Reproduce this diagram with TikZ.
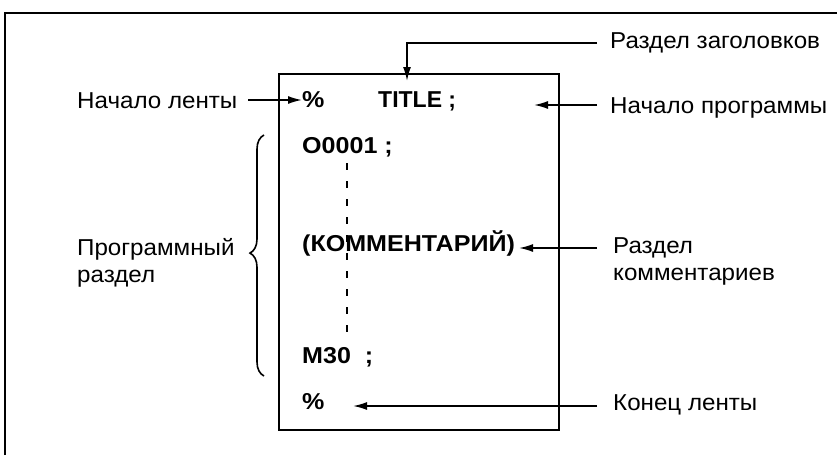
\documentclass[tikz,border=0pt]{standalone}
\usepackage{fontspec}
\setmainfont{Liberation Sans}
\newfontfamily\lblfont[FakeStretch=1.05]{Liberation Sans}
\newfontfamily\codefont[FakeStretch=1.09]{Liberation Sans}
\usetikzlibrary{arrows.meta,decorations.pathreplacing}
\begin{document}
\begin{tikzpicture}[x=1pt,y=-1pt,
  lbl/.style={anchor=base west,inner sep=0pt,font=\lblfont\fontsize{23}{27}\selectfont},
  code/.style={anchor=base west,inner sep=0pt,font=\codefont\fontsize{23}{27}\selectfont\bfseries},
  plaincode/.style={anchor=base west,inner sep=0pt,font=\fontsize{23}{27}\selectfont\bfseries},
  arr/.style={line width=1.7pt,-{Latex[length=14pt,width=8pt]}},
  frame/.style={line width=1.7pt}]
\useasboundingbox (0,0) rectangle (837,455);
% outer frame (cropped)
\draw[frame] (5,455) -- (5,13) -- (837,13);
% inner box
\node[draw,frame,minimum width=280pt,minimum height=356pt,anchor=north west,inner sep=0pt] (box) at (278,73) {};
% code lines
\node[code] (p1) at (302,107) {\%};
\node[plaincode] (title) at (378,107) {TITLE ;};
\node[code] (o1) at (302,153) {O0001 ;};
\coordinate (d1) at (347,163);
\coordinate (d2) at (347,338);
\draw[line width=2.5pt,dash pattern=on 7pt off 11pt] (d1) -- (d2);
\node[code] (cm) at (302,251) {(КОММЕНТАРИЙ)};
\node[code] (m30) at (302,363) {M30\ \ ;};
\node[code] (p2) at (302,409) {\%};
% labels
\node[lbl] (l1) at (77,108) {Начало ленты};
\node[lbl] (r1) at (610,48) {Раздел заголовков};
\node[lbl] (r2) at (610,113) {Начало программы};
\node[lbl,align=left,anchor=north west] (r3) at (613,237) {Раздел\\комментариев};
\node[lbl] (r4) at (613,410) {Конец ленты};
\node[lbl,align=left,anchor=north west] (l2) at (77,238) {Программный\\раздел};
% arrows
\coordinate (a1s) at (248,100);
\coordinate (a1e) at (302,100);
\draw[arr] (a1s) -- (a1e);
\coordinate (a2s) at (597,43);
\coordinate (a2m) at (407,43);
\coordinate (a2e) at (407,81);
\draw[arr] (a2s) -- (a2m) -- (a2e);
\coordinate (a3s) at (597,105);
\coordinate (a3e) at (534,105);
\draw[arr] (a3s) -- (a3e);
\coordinate (a4s) at (597,248);
\coordinate (a4e) at (519,248);
\draw[arr] (a4s) -- (a4e);
\coordinate (a5s) at (597,406);
\coordinate (a5e) at (353,406);
\draw[arr] (a5s) -- (a5e);
% brace
\coordinate (b1) at (264,376);
\coordinate (b2) at (264,135);
\draw[line width=1.6pt,decorate,decoration={brace,amplitude=14pt,aspect=0.51}] (b1) -- (b2);
\end{tikzpicture}
\end{document}
